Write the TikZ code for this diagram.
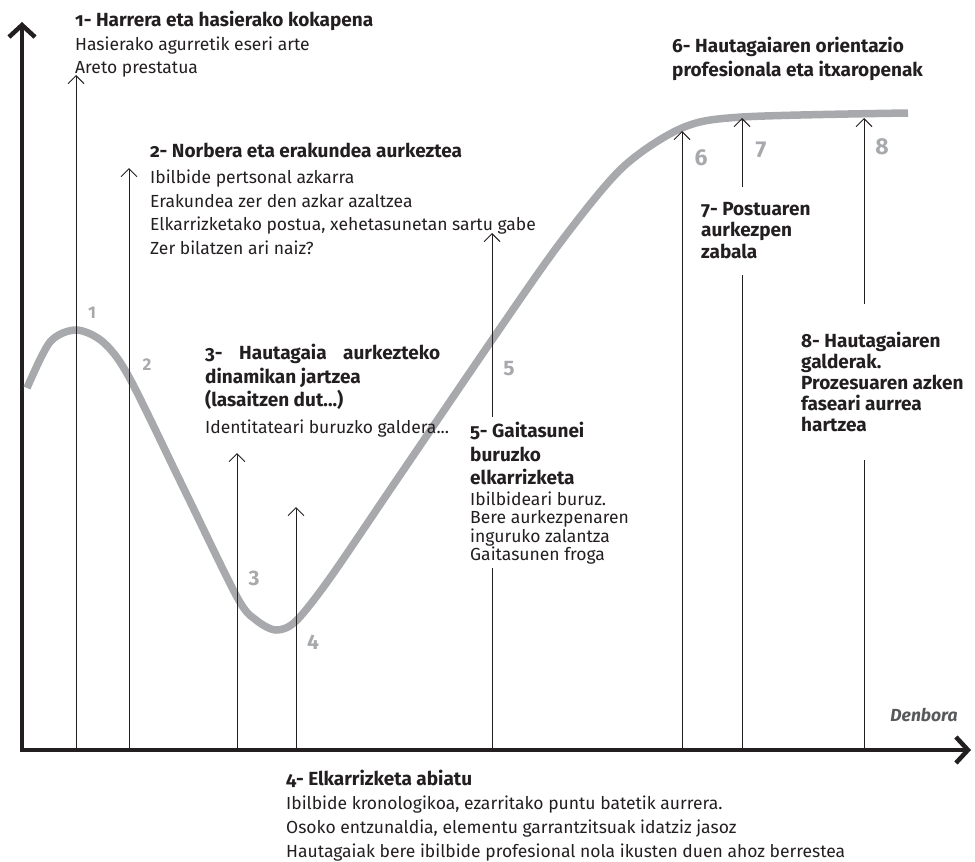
\documentclass[tikz,border=0pt]{standalone}
\usepackage{fontspec}
\setmainfont{Fira Sans}
\usetikzlibrary{arrows.meta}

\definecolor{curvegray}{HTML}{A7A9AC}
\definecolor{inkgray}{HTML}{231F20}
\definecolor{timegray}{HTML}{58595B}
\newcommand{\stagetitle}[1]{{\bfseries\fontsize{19}{23}\selectfont\addfontfeatures{Numbers=OldStyle}#1}}

\begin{document}
\begin{tikzpicture}[x=1pt, y=-1pt,
  axisline/.style={line width=4.5pt, inkgray, line join=miter,
    {Straight Barb[length=12pt,width=26pt]}-{Straight Barb[length=12pt,width=26pt]}},
  stagearrow/.style={line width=0.9pt, inkgray, -{Straight Barb[length=8pt,width=16pt]}},
  stageline/.style={line width=0.9pt, inkgray},
  block/.style={anchor=north west, inner sep=0pt, align=left, text=inkgray,
    font=\fontsize{17.5}{23.5}\selectfont},
  num/.style={text=curvegray, font=\bfseries\fontsize{21}{21}\selectfont},
]
  \useasboundingbox (0,0) rectangle (975,862);

  % axes
  \coordinate (ytip) at (22,22);
  \coordinate (xtip) at (971,750);
  \draw[axisline] (ytip) |- (xtip);

  % the curve
  \draw[curvegray, line width=7.5pt] plot[smooth, tension=0.5] coordinates {
    (27,388) (50,342) (76,330) (103,342) (129,377) (183,487) (237,597)
    (256,620) (276,630) (296,621) (330,578) (396,481) (492,340) (560,243)
    (622,168) (682,128) (742,117) (908,113)};

  % base and tip of every stage arrow
  \foreach \n/\x/\y in {1/76/75, 2/129/168, 3/237/453, 4/296/507,
                        5/492/233, 6/682/131, 7/742/118, 8/864/118} {
    \coordinate (base\n) at (\x,750);
    \coordinate (tip\n) at (\x,\y);
  }

  % where the lines stop around the texts
  \coordinate (cut5a) at (492,568);
  \coordinate (cut5b) at (492,417);
  \coordinate (cut7a) at (742,275);
  \coordinate (cut7b) at (742,187);
  \coordinate (cut8a) at (864,460);
  \coordinate (cut8b) at (864,304);

  \foreach \n in {1,2,3,4,6}
    \draw[stagearrow] (base\n) -- (tip\n);
  \foreach \n in {5,7,8} {
    \draw[stageline] (base\n) -- (cut\n a);
    \draw[stagearrow] (cut\n b) -- (tip\n);
  }

  % stage numbers on the curve
  \node[num, font=\bfseries\fontsize{17}{17}\selectfont] (n1) at (92,313) {1};
  \node[num, font=\bfseries\fontsize{17}{17}\selectfont] (n2) at (147,365) {2};
  \node[num] (n3) at (254,578) {3};
  \node[num] (n4) at (313,642) {4};
  \node[num] (n5) at (509,369) {5};
  \node[num, font=\bfseries\fontsize{23}{23}\selectfont] (n6) at (701,158) {6};
  \node[num, font=\bfseries\fontsize{23}{23}\selectfont] (n7) at (761,150) {7};
  \node[num, font=\bfseries\fontsize{23}{23}\selectfont] (n8) at (882,147) {8};

  % texts
  \node[block] (t1) at (75,11) {\stagetitle{1- Harrera eta hasierako kokapena}\\
    Hasierako agurretik eseri arte\\ Areto prestatua};
  \node[block] (t2) at (150,143) {\stagetitle{2- Norbera eta erakundea aurkeztea}\\[2.5pt]
    Ibilbide pertsonal azkarra\\ Erakundea zer den azkar azaltzea\\
    Elkarrizketako postua, xehetasunetan sartu gabe\\ Zer bilatzen ari naiz?};
  \node[block] (t3) at (205,344) {\stagetitle{\makebox[235pt][s]{3- Hautagaia aurkezteko}}\\
    \stagetitle{dinamikan jartzea}\\ \stagetitle{(lasaitzen dut...)}\\[3pt]
    Identitateari buruzko galdera...};
  \node[block, font=\fontsize{17.5}{24}\selectfont] (t4) at (286,770) {\stagetitle{4- Elkarrizketa abiatu}\\
    Ibilbide kronologikoa, ezarritako puntu batetik aurrera.\\
    Osoko entzunaldia, elementu garrantzitsuak idatziz jasoz\\
    Hautagaiak bere ibilbide profesional nola ikusten duen ahoz berrestea};
  \node[block, font=\fontsize{17.5}{18.5}\selectfont] (t5) at (470,422) {\stagetitle{5- Gaitasunei}\\[5pt]
    \stagetitle{buruzko}\\[5pt] \stagetitle{elkarrizketa}\\[2pt]
    Ibilbideari buruz.\\ Bere aurkezpenaren\\ inguruko zalantza\\ Gaitasunen froga};
  \node[block] (t6) at (672,37) {\stagetitle{6- Hautagaiaren orientazio}\\
    \stagetitle{profesionala eta itxaropenak}};
  \node[block, font=\fontsize{17.5}{21.5}\selectfont] (t7) at (701,202) {\stagetitle{7- Postuaren}\\
    \stagetitle{aurkezpen}\\ \stagetitle{zabala}};
  \node[block, font=\fontsize{17.5}{21}\selectfont] (t8) at (801,332) {\stagetitle{8- Hautagaiaren}\\
    \stagetitle{galderak.}\\ \stagetitle{Prozesuaren azken}\\
    \stagetitle{faseari aurrea}\\ \stagetitle{hartzea}};

  \node[text=timegray, font=\bfseries\itshape\fontsize{17.5}{17.5}\selectfont] (time) at (924,715) {Denbora};
\end{tikzpicture}
\end{document}
